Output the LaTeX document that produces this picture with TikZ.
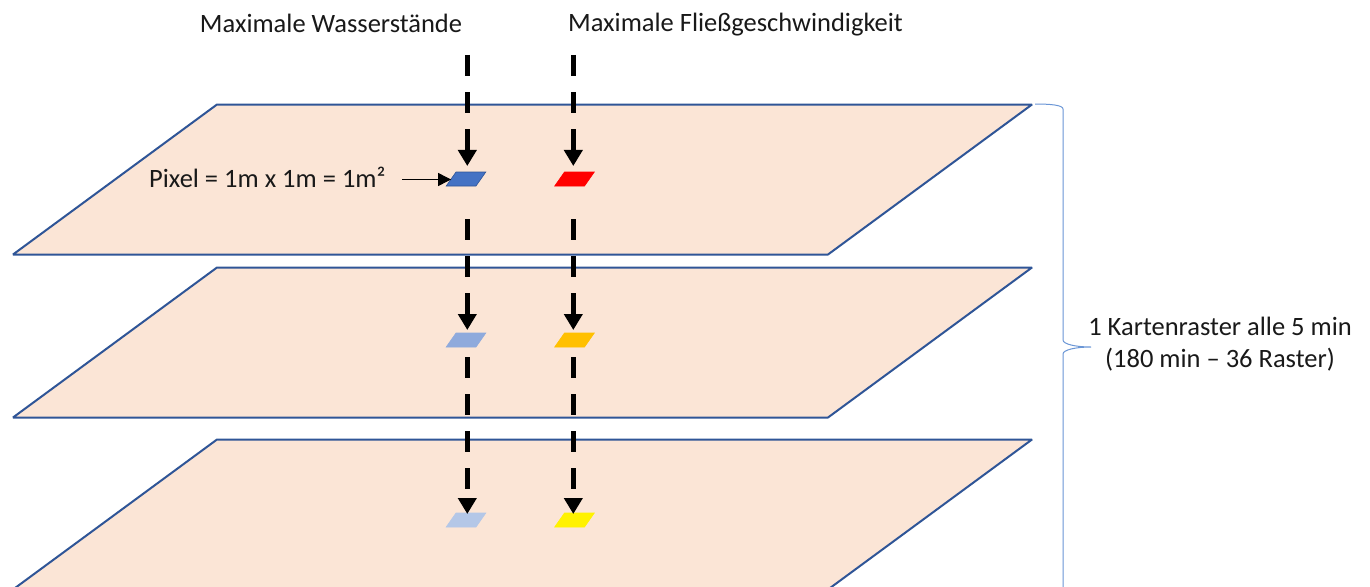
\documentclass[tikz,border=0pt]{standalone}
\usepackage{fontspec}
\setmainfont{Carlito}
\usetikzlibrary{arrows.meta,shapes.geometric}
\definecolor{plateFill}{HTML}{FBE5D6}
\definecolor{plateLine}{HTML}{2F5597}
\definecolor{braceLine}{HTML}{6A96D6}
\definecolor{cellBlue}{HTML}{4472C4}
\definecolor{cellMid}{HTML}{8FAADC}
\definecolor{cellPale}{HTML}{B4C7E7}
\definecolor{cellAmber}{HTML}{FFC000}
\tikzset{
  plate/.style={fill=plateFill,draw=plateLine,line width=2pt,line join=bevel},
  cell/.style={trapezium,trapezium left angle=55,trapezium right angle=125,
    inner sep=0pt,outer sep=0pt,draw=#1,fill=#1,line width=0.6pt,
    text width=20pt,text height=14pt,text depth=0pt},
  flow/.style={line width=4.8pt,black,dash pattern=on 21pt off 16pt,-{Triangle[width=18pt,length=16pt]}},
  lbl/.style={font=\fontsize{26.5}{32}\selectfont,text=black!90,inner sep=0pt,anchor=base}
}
\begin{document}
\begin{tikzpicture}[x=1pt,y=-1pt]
\useasboundingbox (0,0) rectangle (1370,586);
\clip (0,0) rectangle (1370,586);
\fill[white] (0,0) rectangle (1370,586);
% plates
\draw[plate] (217,104.5) -- (1032,104.5) -- (828,254.5) -- (13,254.5) -- cycle;
\draw[plate] (217,267.5) -- (1032,267.5) -- (828,417.5) -- (13,417.5) -- cycle;
\draw[plate] (217,439.5) -- (1032,439.5) -- (828,589.5) -- (13,589.5) -- cycle;
% cells
\node[cell=plateLine,fill=cellBlue] (w1) at (466,179) {};
\node[cell=red] (v1) at (574.5,179) {};
\node[cell=cellMid] (w2) at (466,340) {};
\node[cell=cellAmber] (v2) at (574.5,340) {};
\node[cell=cellPale] (w3) at (466,520) {};
\node[cell=yellow] (v3) at (574.5,520) {};
% flow start points
\coordinate (a1) at (467.3,55);
\coordinate (b1) at (573.3,55);
\coordinate (a2) at (467.3,219);
\coordinate (b2) at (573.3,219);
\coordinate (a3) at (467.3,357);
\coordinate (b3) at (573.3,357);
\draw[flow,shorten >=6pt] (a1) -- (a1 |- w1.north);
\draw[flow,shorten >=6pt] (b1) -- (b1 |- v1.north);
\draw[flow,shorten >=3pt] (a2) -- (a2 |- w2.north);
\draw[flow,shorten >=3pt] (b2) -- (b2 |- v2.north);
\draw[flow,shorten >=-1pt] (a3) -- (a3 |- w3.north);
\draw[flow,shorten >=-1pt] (b3) -- (b3 |- v3.north);
% labels
\node[lbl] (t1) at (331,33) {Maximale Wasserstände};
\node[lbl] (t2) at (735.5,31.5) {Maximale Fließgeschwindigkeit};
\node[lbl,anchor=base west] (t3) at (149,187) {Pixel = 1m x 1m = 1m²};
\node[lbl] (t4) at (1220,335) {1 Kartenraster alle 5 min};
\node[lbl] (t5) at (1220,367) {(180 min – 36 Raster)};
% pixel pointer
\coordinate (p0) at (402,179.5);
\draw[line width=0.9pt,-{Triangle[width=13pt,length=13pt]}] (p0) -- (w1.west |- p0);
% brace
\coordinate (bs) at (1035,104);
\coordinate (bt) at (1091,347);
\coordinate (be) at (1063,600);
\draw[braceLine,line width=1pt] (bs) .. controls (1050,104) and (1063,105) .. (1063,109)
  -- (1063,340) .. controls (1063,344) and (1075,347) .. (bt)
  .. controls (1075,347) and (1063,350) .. (1063,354) -- (be);
\end{tikzpicture}
\end{document}
